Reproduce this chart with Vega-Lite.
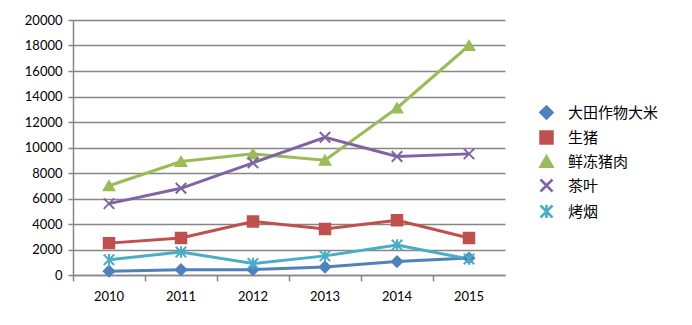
{
  "$schema": "https://vega.github.io/schema/vega-lite/v6.json",
  "width": 432,
  "height": 255,
  "autosize": {"type": "none"},
  "padding": {"left": 73, "top": 20, "right": 187, "bottom": 50},
  "background": "white",
  "config": {
    "view": {"stroke": null},
    "font": "Lato",
    "axis": {"labelFont": "Lato", "labelFontSize": 13, "labelColor": "#000000", "domainColor": "#868686", "tickColor": "#868686", "gridColor": "#868686", "domainWidth": 1.5, "tickWidth": 1.5, "gridWidth": 1.5},
    "legend": {"title": null, "orient": "none", "legendX": 466, "legendY": 85, "labelFont": "Noto Sans CJK SC", "labelFontSize": 15, "labelColor": "#000000", "labelOffset": 14, "rowPadding": 2, "symbolSize": 144, "symbolStrokeWidth": 2.5}
  },
  "data": {
    "values": [
      {"year": "2010", "series": "大田作物大米", "value": 300},
      {"year": "2011", "series": "大田作物大米", "value": 420},
      {"year": "2012", "series": "大田作物大米", "value": 420},
      {"year": "2013", "series": "大田作物大米", "value": 630},
      {"year": "2014", "series": "大田作物大米", "value": 1050},
      {"year": "2015", "series": "大田作物大米", "value": 1330},
      {"year": "2010", "series": "生猪", "value": 2500},
      {"year": "2011", "series": "生猪", "value": 2900},
      {"year": "2012", "series": "生猪", "value": 4200},
      {"year": "2013", "series": "生猪", "value": 3600},
      {"year": "2014", "series": "生猪", "value": 4300},
      {"year": "2015", "series": "生猪", "value": 2900},
      {"year": "2010", "series": "鲜冻猪肉", "value": 7000},
      {"year": "2011", "series": "鲜冻猪肉", "value": 8900},
      {"year": "2012", "series": "鲜冻猪肉", "value": 9500},
      {"year": "2013", "series": "鲜冻猪肉", "value": 9000},
      {"year": "2014", "series": "鲜冻猪肉", "value": 13100},
      {"year": "2015", "series": "鲜冻猪肉", "value": 18000},
      {"year": "2010", "series": "茶叶", "value": 5600},
      {"year": "2011", "series": "茶叶", "value": 6800},
      {"year": "2012", "series": "茶叶", "value": 8800},
      {"year": "2013", "series": "茶叶", "value": 10800},
      {"year": "2014", "series": "茶叶", "value": 9300},
      {"year": "2015", "series": "茶叶", "value": 9500},
      {"year": "2010", "series": "烤烟", "value": 1200},
      {"year": "2011", "series": "烤烟", "value": 1800},
      {"year": "2012", "series": "烤烟", "value": 900},
      {"year": "2013", "series": "烤烟", "value": 1500},
      {"year": "2014", "series": "烤烟", "value": 2350},
      {"year": "2015", "series": "烤烟", "value": 1250}
    ]
  },
  "encoding": {
    "x": {"field": "year", "type": "ordinal", "title": null,
      "scale": {"type": "band", "paddingInner": 0, "paddingOuter": 0},
      "axis": {"labelAngle": 0, "bandPosition": 0, "tickSize": 6, "labelPadding": 9, "grid": false}},
    "y": {"field": "value", "type": "quantitative", "title": null,
      "scale": {"domain": [0, 20000], "nice": false},
      "axis": {"values": [0, 2000, 4000, 6000, 8000, 10000, 12000, 14000, 16000, 18000, 20000], "format": "d", "tickSize": 5, "labelPadding": 6, "grid": true, "domain": true}}
  },
  "layer": [
    {
      "mark": {"type": "line", "strokeWidth": 3},
      "encoding": {
        "color": {"field": "series", "type": "nominal",
          "scale": {"domain": ["大田作物大米", "生猪", "鲜冻猪肉", "茶叶", "烤烟"], "range": ["#4F81BD", "#C0504D", "#9BBB59", "#8064A2", "#4BACC6"]}}
      }
    },
    {
      "mark": {"type": "point", "filled": true, "size": 110, "strokeWidth": 2, "opacity": 1},
      "encoding": {
        "color": {"field": "series", "type": "nominal",
          "scale": {"domain": ["大田作物大米", "生猪", "鲜冻猪肉", "茶叶", "烤烟"], "range": ["#4F81BD", "#C0504D", "#9BBB59", "#8064A2", "#4BACC6"]}},
        "stroke": {"field": "series", "type": "nominal",
          "scale": {"domain": ["大田作物大米", "生猪", "鲜冻猪肉", "茶叶", "烤烟"], "range": ["#4F81BD", "#C0504D", "#9BBB59", "#8064A2", "#4BACC6"]}},
        "shape": {"field": "series", "type": "nominal",
          "scale": {"domain": ["大田作物大米", "生猪", "鲜冻猪肉", "茶叶", "烤烟"], "range": ["diamond", "square", "triangle-up", "M-1,-1L1,1M1,-1L-1,1", "M-1,-1L1,1M1,-1L-1,1M0,-1.1L0,1.1"]}}
      }
    }
  ]
}
